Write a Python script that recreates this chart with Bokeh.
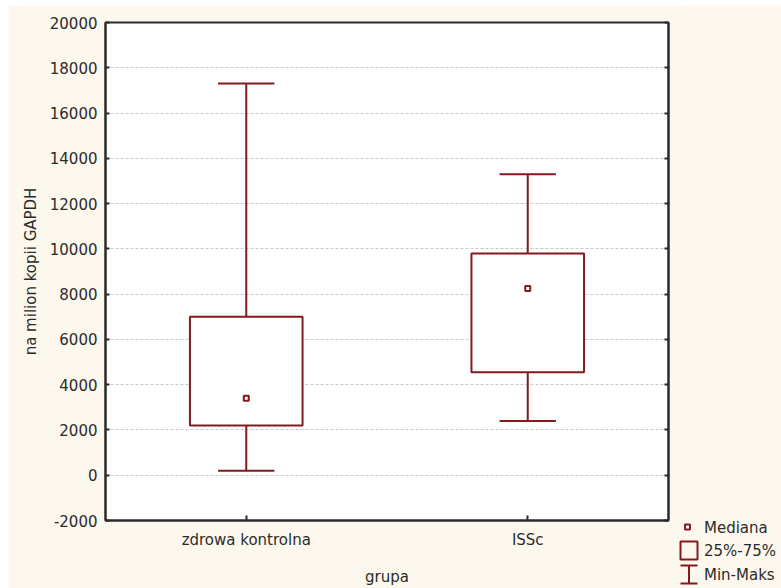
from bokeh.plotting import figure
from bokeh.models import (ColumnDataSource, FactorRange, Range1d, FixedTicker, LinearAxis, Spacer,
                          PrintfTickFormatter)
from bokeh.transform import dodge
from bokeh.layouts import row, column
from bokeh.core.properties import value
from bokeh.embed import file_html
from bokeh.resources import INLINE

# Summary statistics per group (copies per million GAPDH copies)
groups = ["zdrowa kontrolna", "ISSc"]
mins = [200, 2400]
q1s = [2200, 4550]
medians = [3400, 8250]
q3s = [7000, 9800]
maxs = [17300, 13300]

y_ticks = [-2000, 0, 2000, 4000, 6000, 8000, 10000, 12000, 14000, 16000, 18000, 20000]
legend_labels = ["Mediana", "25%-75%", "Min-Maks"]

CREAM = "#fdf8ed"
RED = "#841a1f"
INK = "#2b2b2b"
FONT = "DejaVu Sans"
FS = "15px"

src = ColumnDataSource(dict(grupa=groups, mn=mins, q1=q1s, med=medians, q3=q3s, mx=maxs))

p = figure(
    x_range=FactorRange(factors=groups, range_padding=0),
    y_range=Range1d(-2000, 20000),
    width=667, height=583,
    output_backend="svg", toolbar_location=None,
    min_border_left=97, min_border_right=7, min_border_top=17, min_border_bottom=66,
    background_fill_color="white", border_fill_color=CREAM,
    outline_line_color=INK, outline_line_width=2,
)
p.frame_align = False

# whisker stems
p.segment(x0="grupa", y0="q3", x1="grupa", y1="mx", source=src, line_color=RED, line_width=2)
p.segment(x0="grupa", y0="mn", x1="grupa", y1="q1", source=src, line_color=RED, line_width=2)
# whisker caps
for col in ("mx", "mn"):
    p.segment(x0=dodge("grupa", -0.1, range=p.x_range), y0=col,
              x1=dodge("grupa", 0.1, range=p.x_range), y1=col,
              source=src, line_color=RED, line_width=2)
# interquartile boxes
p.vbar(x="grupa", width=0.4, bottom="q1", top="q3", source=src,
       fill_color="white", line_color=RED, line_width=2)
# medians
p.scatter(x="grupa", y="med", source=src, marker="square", size=5,
          fill_color="white", line_color=RED, line_width=2)

# grid
p.xgrid.visible = False
p.ygrid.ticker = FixedTicker(ticks=y_ticks)
p.ygrid.grid_line_color = "#c8c8c8"
p.ygrid.grid_line_dash = "3 2"
p.ygrid.grid_line_width = 1

# axes
p.yaxis.ticker = FixedTicker(ticks=y_ticks)
p.yaxis.formatter = PrintfTickFormatter(format="%d")
p.yaxis.axis_label = "na milion kopii GAPDH"
p.xaxis.axis_label = "grupa"
for ax in (p.xaxis, p.yaxis):
    ax.axis_line_color = INK
    ax.axis_line_width = 2
    ax.major_tick_line_color = INK
    ax.major_tick_line_width = 2
    ax.major_tick_in = 4
    ax.major_tick_out = 0
    ax.minor_tick_line_color = None
    ax.major_label_text_font = FONT
    ax.major_label_text_font_size = FS
    ax.major_label_text_color = INK
    ax.axis_label_text_font = FONT
    ax.axis_label_text_font_size = FS
    ax.axis_label_text_font_style = "normal"
    ax.axis_label_text_color = INK
p.yaxis.major_label_standoff = 8
p.yaxis.axis_label_standoff = 7
p.xaxis.major_label_standoff = 10
p.xaxis.axis_label_standoff = 16
p.xaxis.major_tick_in = 5

right_axis = LinearAxis(
    ticker=FixedTicker(ticks=y_ticks),
    axis_line_color=INK, axis_line_width=2,
    major_tick_line_color=INK, major_tick_line_width=2,
    major_tick_in=4, major_tick_out=0,
    minor_tick_line_color=None,
    major_label_text_font_size="0px", major_label_text_alpha=0,
    major_label_standoff=0,
)
p.add_layout(right_axis, "right")

# key panel
leg = figure(
    width=106, height=583, x_range=Range1d(0, 106), y_range=Range1d(0, 583),
    output_backend="svg", toolbar_location=None, min_border=0,
    x_axis_location=None, y_axis_location=None,
    border_fill_color=CREAM, background_fill_color=CREAM, outline_line_color=None,
)
leg.frame_align = False
leg.grid.visible = False
leg.scatter([12], [61.5], marker="square", size=5, fill_color="white", line_color=RED, line_width=2)
leg.quad(left=[5], right=[22], bottom=[29], top=[47], fill_alpha=0, line_color=RED, line_width=2)
leg.segment(x0=[13.5, 5, 5], y0=[5, 23, 5], x1=[13.5, 22, 22], y1=[23, 23, 5],
            line_color=RED, line_width=2)
leg.text(x=[28.5, 28.5, 28.5], y=[61, 38, 14], text=legend_labels,
         text_baseline="middle", text_align="left",
         text_font=value(FONT), text_font_size=FS, text_color=INK)

layout = column(Spacer(height=5), row(Spacer(width=8), p, leg))

open("out.html", "w").write(file_html(layout, INLINE))
